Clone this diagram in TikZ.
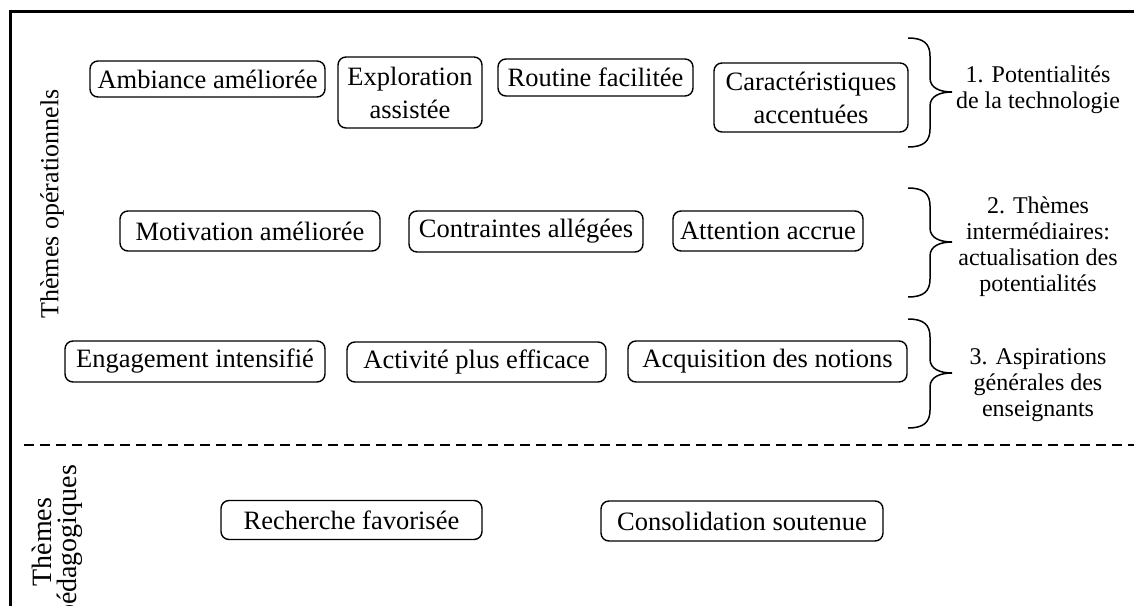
\documentclass[tikz,border=0pt]{standalone}
\usepackage{fontspec}
\setmainfont{Liberation Serif}
\newcommand\boxfont{\fontsize{26.5}{33}\selectfont}
\newcommand\labfont{\fontsize{24}{26}\selectfont}
\newcommand\drawcurly[3]{%
  \draw[bracestyle] (908,#1) .. controls (924,#1) and (930,#1+6) .. (930,#1+18)
    -- (930,#2-14) .. controls (930,#2-4) and (940,#2) .. (952,#2)
    .. controls (940,#2) and (930,#2+4) .. (930,#2+14)
    -- (930,#3-18) .. controls (930,#3-6) and (924,#3) .. (908,#3);}
\begin{document}
\begin{tikzpicture}[x=1pt,y=-1pt,
  box/.style={draw, rounded corners=8pt, line width=1.4pt, align=center,
    font=\boxfont, inner xsep=4pt, inner ysep=2pt},
  sidelab/.style={align=center, font=\labfont},
  bracestyle/.style={line width=1.5pt},
  framestyle/.style={line width=2.4pt},
  sepline/.style={line width=1.5pt, dash pattern=on 10pt off 6pt}]
\clip (0,0) rectangle (1134,605);
\fill[white] (0,0) rectangle (1134,605);
% frame
\draw[framestyle] (10.5,606) -- (10.5,11.5) -- (1135,11.5);
\draw[sepline] (24,445) -- (1135,445);
% row 1
\node[box, minimum width=235pt, minimum height=36pt] (amb) at (207.5,79) {Ambiance améliorée};
\node[box, minimum width=144pt, minimum height=71pt] (expl) at (410,92.5) {Exploration\\assistée};
\node[box, minimum width=195pt, minimum height=37pt] (rout) at (595.5,77.5) {Routine facilitée};
\node[box, minimum width=194pt, minimum height=69pt] (cara) at (811,97.5) {Caractéristiques\\accentuées};
% row 2
\node[box, minimum width=260pt, minimum height=40pt] (mot) at (250,231) {Motivation améliorée};
\node[box, minimum width=234pt, minimum height=41pt] (cont) at (526,231.5) {Contraintes allégées};
\node[box, minimum width=190pt, minimum height=40pt] (att) at (768,231) {Attention accrue};
% row 3
\node[box, minimum width=260pt, minimum height=41pt] (eng) at (195,361.5) {Engagement intensifié};
\node[box, minimum width=259pt, minimum height=40pt] (act) at (476.5,362) {Activité plus efficace};
\node[box, minimum width=279pt, minimum height=41pt] (acq) at (767.5,361.5) {Acquisition des notions};
% row 4
\node[box, minimum width=261pt, minimum height=39pt] (rech) at (351.5,520) {Recherche favorisée};
\node[box, minimum width=282pt, minimum height=40pt] (cons) at (742,521) {Consolidation soutenue};
% braces
\drawcurly{38}{92}{147}
\drawcurly{188}{242}{297}
\drawcurly{319}{373}{428}
% labels
\node[sidelab] (lab1) at (1038,90) {1. Potentialités\\de la technologie};
\node[sidelab] (lab2) at (1038,246.5) {2. Thèmes\\intermédiaires:\\actualisation des\\potentialités};
\node[sidelab] (lab3) at (1038,385) {3. Aspirations\\générales des\\enseignants};
% rotated side titles
\node[rotate=90, font=\fontsize{26}{28}\selectfont] (op) at (52,204) {Thèmes opérationnels};
\node[rotate=90, align=center, font=\fontsize{28}{24.5}\selectfont] (ped) at (57.5,542) {Thèmes\\pédagogiques};
\end{tikzpicture}
\end{document}
